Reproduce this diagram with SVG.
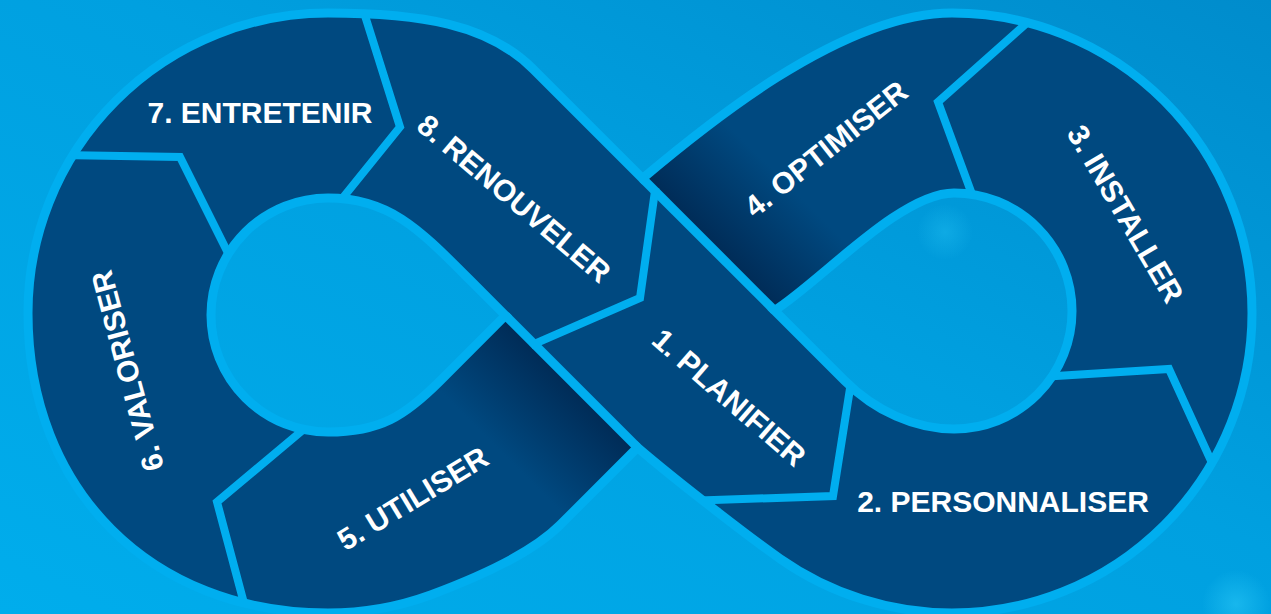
<svg xmlns="http://www.w3.org/2000/svg" width="1271" height="614" viewBox="0 0 1271 614">
<defs>
<style>
.seg{fill:#004980}
.lbl{fill:#ffffff;font-family:"Liberation Sans",Arial,Helvetica,sans-serif;font-weight:bold;font-size:30px;text-anchor:middle}
.sep{fill:none;stroke:#00aeef;stroke-width:8;stroke-linejoin:miter;stroke-linecap:butt}
.edge{fill:none;stroke:#00aeef;stroke-width:9;stroke-linejoin:miter}
</style>
<linearGradient id="bg" x1="1" y1="0" x2="0" y2="1">
<stop offset="0" stop-color="#008ccc"/>
<stop offset="0.45" stop-color="#00a0e0"/>
<stop offset="1" stop-color="#00adec"/>
</linearGradient>
<linearGradient id="sh4" gradientUnits="userSpaceOnUse" x1="708" y1="245" x2="778" y2="175">
<stop offset="0" stop-color="#002b56"/>
<stop offset="1" stop-color="#004980"/>
</linearGradient>
<linearGradient id="sh5" gradientUnits="userSpaceOnUse" x1="571" y1="382" x2="501" y2="452">
<stop offset="0" stop-color="#002b56"/>
<stop offset="1" stop-color="#004980"/>
</linearGradient>
<radialGradient id="bok">
<stop offset="0" stop-color="#22c0f2" stop-opacity="0.7"/>
<stop offset="1" stop-color="#22c0f2" stop-opacity="0"/>
</radialGradient>
<path id="band" fill-rule="evenodd" clip-rule="evenodd" d="M642.5 178.5 L533 69 C488 24 420 13 328 13 A300 300 0 0 0 28 313 C28 490 151 613 328 613 A300 300 0 0 0 430.6 594.9 C468 581 530 555 560 525 L637.5 447.5 C680 484 755.4 541.5 780 558.7 A300 300 0 0 0 952 613 A300 300 0 0 0 1252 313 A300 300 0 0 0 952 13 C840 13 700 130 642.5 178.5 Z M328 198 A117 117 0 0 0 211 315 A117 117 0 0 0 328 432 C380 432 405 416 440 381 L505.5 315.5 L470 280 C420 230 390 198 328 198 Z M774.5 310.5 C820 282 900 193 954 193 A118 118 0 0 1 1072 311 A118 118 0 0 1 954 429 C915 429 875 411 845 381 Z"/>
<clipPath id="cb"><use href="#band"/></clipPath>
<clipPath id="c1"><polygon points="655,191 640,298 534,344 637.5,447.5 650,502 703,500 833,496 850,388 855,355 774.5,310.5"/></clipPath>
<clipPath id="c2"><polygon points="650,502 703,500 833,496 850,388 855,355 1015,378 1053,376 1169,369 1212,464 1245,530 1330,530 1330,680 650,680"/></clipPath>
<clipPath id="c3"><polygon points="1080,-60 1330,-60 1330,530 1245,530 1212,464 1169,369 1053,376 1015,378 985,230 973,197 938,102 1027,23 1080,-25"/></clipPath>
<clipPath id="c4"><polygon points="600,-60 1080,-60 1080,-25 1027,23 938,102 973,197 985,230 774.5,310.5 642.5,178.5"/></clipPath>
<clipPath id="c5"><polygon points="260,680 245,607 217,502 300,432 320,415 505.5,315.5 637.5,447.5 720,680"/></clipPath>
<clipPath id="c6"><polygon points="-50,153 73,155 180,157 227,250 240,276 320,415 300,432 217,502 245,607 260,680 -50,680"/></clipPath>
<clipPath id="c7"><polygon points="-50,-60 340,-60 365,15 400,127 345,195 330,214 240,276 227,250 180,157 73,155 -50,153"/></clipPath>
<clipPath id="c8"><polygon points="655,191 600,136 640,-60 340,-60 365,15 400,127 345,195 330,214 420,300 505.5,315.5 534,344 640,298"/></clipPath>
</defs>
<rect id="background" x="0" y="0" width="1271" height="614" fill="url(#bg)"/>
<g id="decor">
<circle cx="1236" cy="604" r="34" fill="url(#bok)"/>
<circle cx="945" cy="232" r="28" fill="url(#bok)" opacity="0.6"/>
</g>
<g id="seg1"><use href="#band" class="seg" clip-path="url(#c1)"/><text class="lbl" transform="translate(729.5,397) rotate(41)" x="0" y="11">1. PLANIFIER</text></g>
<g id="seg2"><use href="#band" class="seg" clip-path="url(#c2)"/><text class="lbl" x="1003" y="512">2. PERSONNALISER</text></g>
<g id="seg3"><use href="#band" class="seg" clip-path="url(#c3)"/><text class="lbl" transform="translate(1126,213.5) rotate(59.6)" x="0" y="11">3. INSTALLER</text></g>
<g id="seg4"><use href="#band" fill="url(#sh4)" clip-path="url(#c4)"/><text class="lbl" transform="translate(825.5,148.5) rotate(-38.5)" x="0" y="11">4. OPTIMISER</text></g>
<g id="seg5"><use href="#band" fill="url(#sh5)" clip-path="url(#c5)"/><text class="lbl" transform="translate(412.5,498) rotate(-31.3)" x="0" y="11">5. UTILISER</text></g>
<g id="seg6"><use href="#band" class="seg" clip-path="url(#c6)"/><text class="lbl" transform="translate(127,371) rotate(-105)" x="0" y="11">6. VALORISER</text></g>
<g id="seg7"><use href="#band" class="seg" clip-path="url(#c7)"/><text class="lbl" x="260" y="123">7. ENTRETENIR</text></g>
<g id="seg8"><use href="#band" class="seg" clip-path="url(#c8)"/><text class="lbl" transform="translate(514.5,198) rotate(40.2)" x="0" y="11">8. RENOUVELER</text></g>
<g id="connectors">
<g clip-path="url(#cb)">
<polyline class="sep" points="655.4,188 640,298 531,345.3"/>
<polyline class="sep" points="685,501 833,496 852,376"/>
<polyline class="sep" points="1040,377 1169,369 1218,476"/>
<polyline class="sep" points="1037,14 938,102 977,208"/>
<polyline class="sep" points="310,424 217,502 249,622"/>
<polyline class="sep" points="60,155 180,157 232,261"/>
<polyline class="sep" points="361,3 400,127 337,205"/>
</g>
<use href="#band" class="edge"/>
<line class="edge" x1="642.5" y1="178.5" x2="774.5" y2="310.5"/>
<line class="edge" x1="505.5" y1="315.5" x2="637.5" y2="447.5"/>
</g>
</svg>
